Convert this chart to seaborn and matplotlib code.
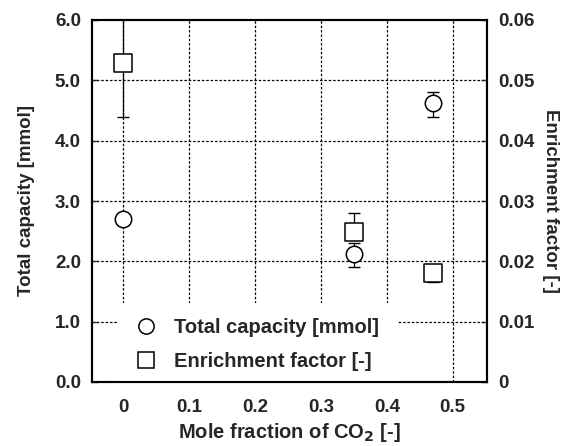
import matplotlib
matplotlib.use("Agg")
import matplotlib.pyplot as plt
import seaborn as sns
import pandas as pd
from matplotlib.lines import Line2D
from matplotlib.patches import Rectangle

sns.set_theme(style="white")
plt.rcParams['font.family'] = ['Liberation Sans', 'DejaVu Sans']
plt.rcParams['font.weight'] = 'bold'
plt.rcParams['mathtext.default'] = 'bf'

# Data
co2_fraction = [0.0, 0.35, 0.47]
total_capacity = [2.7, 2.12, 4.62]
total_capacity_err_low = [0.0, 0.22, 0.22]
total_capacity_err_high = [0.0, 0.18, 0.18]
enrichment = [0.0529, 0.0249, 0.0181]
enrichment_err_low = [0.009, 0.0, 0.0016]
enrichment_err_high = [0.009, 0.0031, 0.0]

x_ticks = [0, 0.1, 0.2, 0.3, 0.4, 0.5]
x_tick_labels = ["0", "0.1", "0.2", "0.3", "0.4", "0.5"]
y_ticks = [0, 1, 2, 3, 4, 5, 6]
y_tick_labels = ["0.0", "1.0", "2.0", "3.0", "4.0", "5.0", "6.0"]
y2_ticks = [0, 0.01, 0.02, 0.03, 0.04, 0.05, 0.06]
y2_tick_labels = ["0", "0.01", "0.02", "0.03", "0.04", "0.05", "0.06"]

df1 = pd.DataFrame({"x": co2_fraction, "y": total_capacity})
df2 = pd.DataFrame({"x": co2_fraction, "y": enrichment})

fig = plt.figure(figsize=(5.74, 4.46), dpi=100)
ax = fig.add_axes([92/574, 1 - 382/446, (487-92)/574, (382-20)/446])
ax2 = ax.twinx()

ax.set_xlim(-0.047, 0.552)
ax.set_ylim(0, 6)
ax2.set_ylim(0, 0.06)

# grid (dotted)
for xt in x_ticks:
    ax.axvline(xt, color='black', lw=0.9, ls=(0, (2, 1.5)), zorder=0)
for yt in y_ticks[1:-1]:
    ax.axhline(yt, color='black', lw=0.9, ls=(0, (2, 1.5)), zorder=0)

# white background of the legend area
ax2.add_patch(Rectangle((0.066, 0.0), 0.709, 0.218, transform=ax2.transAxes,
                        facecolor='white', edgecolor='none', zorder=1))

ax.errorbar(co2_fraction, total_capacity,
            yerr=[total_capacity_err_low, total_capacity_err_high],
            fmt='none', ecolor='black', elinewidth=0.9, capsize=4, zorder=3)
ax2.errorbar(co2_fraction, enrichment,
             yerr=[enrichment_err_low, enrichment_err_high],
             fmt='none', ecolor='black', elinewidth=0.9, capsize=4, zorder=3)

sns.scatterplot(data=df1, x="x", y="y", ax=ax, marker='o', s=140,
                facecolor='white', edgecolor='black', linewidth=1.1, zorder=4)
sns.scatterplot(data=df2, x="x", y="y", ax=ax2, marker='s', s=165,
                facecolor='white', edgecolor='black', linewidth=1.1, zorder=4)

ax.set_xticks(x_ticks)
ax.set_xticklabels(x_tick_labels)
ax.set_yticks(y_ticks)
ax.set_yticklabels(y_tick_labels)
ax2.set_yticks(y2_ticks)
ax2.set_yticklabels(y2_tick_labels)

ax.tick_params(axis='x', direction='in', length=3, width=1, labelsize=13.5, pad=12)
ax.tick_params(axis='y', direction='in', length=4, width=1, labelsize=13.5, pad=8)
ax2.tick_params(axis='y', direction='in', length=4, width=1, labelsize=13.5, pad=8)
for a in (ax, ax2):
    for s in a.spines.values():
        s.set_color('black')
        s.set_linewidth(1.5)
    for lab in a.get_xticklabels() + a.get_yticklabels():
        lab.set_fontweight('bold')

ax.set_xlabel("Mole fraction of CO$_2$ [-]", fontsize=14.5, fontweight='bold', labelpad=4)
ax.set_ylabel("Total capacity [mmol]", fontsize=13.5, fontweight='bold', labelpad=14)
ax2.set_ylabel("Enrichment factor [-]", fontsize=13.5, fontweight='bold', rotation=270, labelpad=18)
ax2.set_xlabel("")

handles = [
    Line2D([], [], marker='o', ls='none', markersize=11, markerfacecolor='white',
           markeredgecolor='black', markeredgewidth=1.1, label="Total capacity [mmol]"),
    Line2D([], [], marker='s', ls='none', markersize=12, markerfacecolor='white',
           markeredgecolor='black', markeredgewidth=1.1, label="Enrichment factor [-]"),
]
leg = ax2.legend(handles=handles, loc='lower left', bbox_to_anchor=(0.105, 0.03),
                 frameon=False, prop={'weight': 'bold', 'size': 14.5},
                 handletextpad=0.8, borderpad=0.0, borderaxespad=0.0,
                 labelspacing=0.75, handlelength=1.2)
leg.set_zorder(10)

fig.savefig("out.png", dpi=100)
